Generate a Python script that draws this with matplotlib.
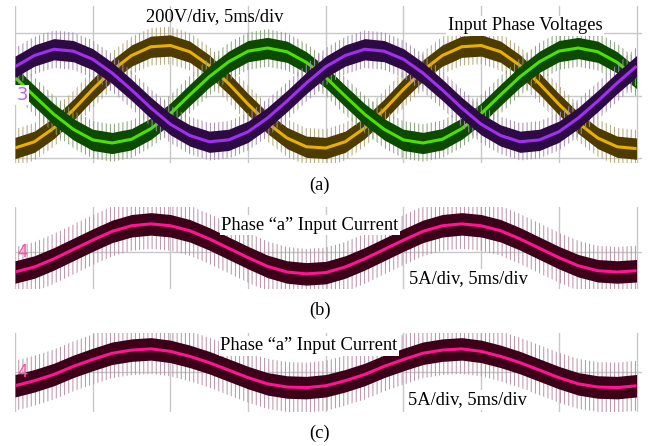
import numpy as np
import matplotlib
matplotlib.use("Agg")
import matplotlib.pyplot as plt

# ---- data (in scope divisions) ----
time_div = np.linspace(0, 8, 33)   # 5 ms/div, sampled every 0.25 div

phase_purple = [0.46, 0.64, 0.74, 0.71, 0.58, 0.36, 0.09, -0.20, -0.46, -0.64, -0.74, -0.71,
                -0.58, -0.36, -0.09, 0.20, 0.46, 0.64, 0.74, 0.71, 0.58, 0.36, 0.09, -0.20,
                -0.46, -0.64, -0.74, -0.71, -0.58, -0.36, -0.09, 0.20, 0.47]
phase_yellow = [-0.84, -0.74, -0.52, -0.23, 0.10, 0.40, 0.64, 0.78, 0.80, 0.70, 0.48, 0.19,
                -0.14, -0.44, -0.68, -0.82, -0.84, -0.74, -0.52, -0.23, 0.10, 0.40, 0.64, 0.78,
                0.80, 0.70, 0.48, 0.19, -0.14, -0.44, -0.68, -0.82, -0.85]
phase_green = [0.29, -0.01, -0.30, -0.54, -0.71, -0.76, -0.70, -0.53, -0.29, 0.01, 0.30, 0.54,
               0.71, 0.76, 0.70, 0.53, 0.29, -0.01, -0.30, -0.54, -0.71, -0.76, -0.70, -0.53,
               -0.29, 0.01, 0.30, 0.54, 0.71, 0.76, 0.70, 0.53, 0.28]
current_b = [-0.32, -0.24, -0.11, 0.04, 0.19, 0.33, 0.42, 0.45, 0.42, 0.34, 0.21, 0.06,
             -0.09, -0.23, -0.32, -0.35, -0.33, -0.24, -0.11, 0.04, 0.19, 0.33, 0.42, 0.45,
             0.42, 0.34, 0.21, 0.06, -0.09, -0.22, -0.30, -0.32, -0.30]
current_c = [-0.22, -0.14, -0.04, 0.09, 0.20, 0.30, 0.35, 0.37, 0.33, 0.25, 0.15, 0.03,
             -0.09, -0.19, -0.24, -0.25, -0.22, -0.14, -0.04, 0.09, 0.20, 0.30, 0.35, 0.37,
             0.33, 0.25, 0.15, 0.03, -0.09, -0.19, -0.24, -0.25, -0.22]

W, H = 656, 446
fig = plt.figure(figsize=(W / 100, H / 100), dpi=100)
SERIF = ["Liberation Serif", "DejaVu Serif"]
GRID = "#c8c8c8"
FS = 13.3


def add_axes_px(x0, y0, x1, y1):
    return fig.add_axes([x0 / W, 1 - y1 / H, (x1 - x0) / W, (y1 - y0) / H])


def style(ax, ylo, yhi, hlines):
    ax.set_xlim(0, 8.07)
    ax.set_ylim(ylo, yhi)
    for s in ax.spines.values():
        s.set_visible(False)
    ax.set_xticks([])
    ax.set_yticks([])
    for xv in range(0, 9):
        ax.axvline(xv, color=GRID, lw=1.0, zorder=0)
    for yv in hlines:
        ax.axhline(yv, color=GRID, lw=1.0, zorder=0)


def trace(ax, y, line_c, band_c, spike_c, inner, outer, z):
    y = np.asarray(y)
    ax.fill_between(time_div, y - outer, y + outer, facecolor="none", edgecolor=spike_c,
                    hatch="||||", linewidth=0, zorder=z)
    ax.fill_between(time_div, y - inner, y + inner, color=band_c, linewidth=0, zorder=z + 0.1)
    ax.plot(time_div, y, color=line_c, lw=2.2, zorder=z + 0.2, solid_capstyle="butt")


plt.rcParams["hatch.linewidth"] = 0.7

# ---- panel (a) ----
axa = add_axes_px(15, 6, 642, 163)
style(axa, -1.08, 1.432, [-1, 0, 1])
trace(axa, phase_yellow, "#e8b000", "#4d3b00", "#b0a478", 0.17, 0.30, 2)
trace(axa, phase_green, "#50e000", "#0b4a00", "#86a076", 0.17, 0.30, 3)
trace(axa, phase_purple, "#a030f0", "#2e0a45", "#a48cb0", 0.17, 0.30, 4)

# ---- panel (b) ----
axb = add_axes_px(15, 207, 642, 289)
style(axb, -0.592, 0.72, [0])
trace(axb, current_b, "#ff1493", "#3c0019", "#b890a4", 0.18, 0.40, 2)

# ---- panel (c) ----
axc = add_axes_px(15, 333, 642, 412)
style(axc, -0.64, 0.624, [0])
trace(axc, current_c, "#ff1493", "#3c0019", "#b890a4", 0.18, 0.40, 2)


def ftext(x, y, s, **kw):
    return fig.text(x / W, 1 - y / H, s, **kw)


box = dict(facecolor="white", edgecolor="none", pad=1.0)
ftext(215, 17, "200V/div, 5ms/div", family=SERIF, fontsize=FS, ha="center", va="center")
ftext(525, 26, "Input Phase Voltages", family=SERIF, fontsize=FS, ha="center", va="center",
      bbox=box, zorder=10)
ftext(310, 225, "Phase \u201ca\u201d Input Current", family=SERIF, fontsize=FS, ha="center",
      va="center", bbox=box, zorder=10)
ftext(468, 279, "5A/div, 5ms/div", family=SERIF, fontsize=FS, ha="center", va="center",
      bbox=box, zorder=10)
ftext(309, 346, "Phase \u201ca\u201d Input Current", family=SERIF, fontsize=FS, ha="center",
      va="center", bbox=box, zorder=10)
ftext(467, 400, "5A/div, 5ms/div", family=SERIF, fontsize=FS, ha="center", va="center",
      bbox=box, zorder=10)
ftext(320, 185, "(a)", family=SERIF, fontsize=FS, ha="center", va="center")
ftext(320, 310, "(b)", family=SERIF, fontsize=FS, ha="center", va="center")
ftext(320, 433, "(c)", family=SERIF, fontsize=FS, ha="center", va="center")

mbox = dict(facecolor="white", edgecolor="none", pad=0.8)
ftext(22, 95, "3", fontsize=13, color="#c060ff", ha="center", va="center", bbox=mbox, zorder=10)
ftext(22, 252, "4", fontsize=12, color="#ff50a8", ha="center", va="center", zorder=10)
ftext(22, 372, "4", fontsize=12, color="#ff50a8", ha="center", va="center", zorder=10)

fig.savefig("out.png", dpi=100)
